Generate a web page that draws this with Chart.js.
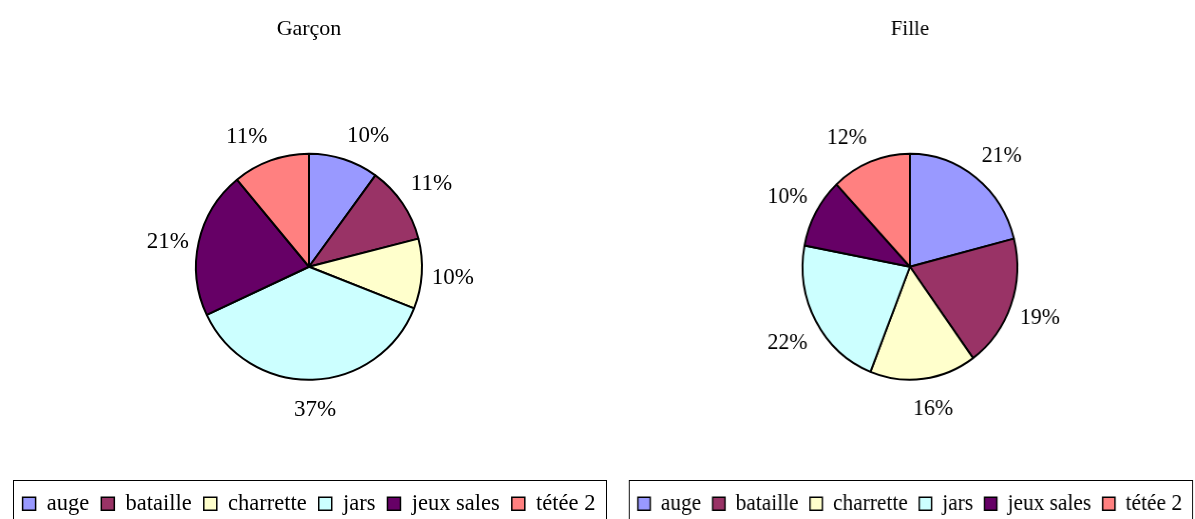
<!DOCTYPE html>
<html lang="fr">
<head>
<meta charset="UTF-8">
<title>Garçon / Fille</title>
<script src="https://cdn.jsdelivr.net/npm/chart.js"></script>
<style>
    body { margin: 0; background: #fff; width: 1195px; height: 519px; position: relative; overflow: hidden; }
    .pie-box { position: absolute; top: 0; width: 602px; height: 525px; }
    #boxGarcon { left: 8px; }
    /* le graphique "Fille" est un peu écrasé en largeur dans l'original */
    #boxFille { left: 624px; transform: scaleX(0.95); transform-origin: 0 0; }
</style>
</head>
<body>
<div class="pie-box" id="boxGarcon"><canvas id="chartGarcon"></canvas></div>
<div class="pie-box" id="boxFille"><canvas id="chartFille"></canvas></div>

<script>
// données (pourcentages)
const categories = ['auge', 'bataille', 'charrette', 'jars', 'jeux sales', 'tétée 2'];
const garconValues = [10, 11, 10, 37, 21, 11];
const filleValues = [21, 19, 16, 22, 10, 12];
const sliceColors = ['#9999FF', '#993366', '#FFFFCC', '#CCFFFF', '#660066', '#FF8080'];

const serif = '"Liberation Serif", "DejaVu Serif", serif';

// étiquettes % à l'extérieur des parts, à la manière d'Excel
const pctLabels = {
    id: 'pctLabels',
    afterDatasetsDraw(chart) {
        const ctx = chart.ctx;
        const meta = chart.getDatasetMeta(0);
        const values = chart.data.datasets[0].data;
        const total = values.reduce((a, b) => a + b, 0);
        const clamp = v => Math.max(-1, Math.min(1, v));
        ctx.save();
        ctx.font = '23px ' + serif;
        ctx.fillStyle = '#000';
        ctx.textAlign = 'center';
        ctx.textBaseline = 'middle';
        meta.data.forEach((arc, i) => {
            const p = arc.getProps(['x', 'y', 'startAngle', 'endAngle', 'outerRadius'], true);
            const mid = (p.startAngle + p.endAngle) / 2;
            const ux = Math.cos(mid), uy = Math.sin(mid);
            const txt = Math.round(values[i] / total * 100) + '%';
            const w = ctx.measureText(txt).width, h = 34;
            const r = p.outerRadius + 10;
            const kx = clamp(ux / 0.3);
            const ky = Math.sign(uy) * Math.max(0, Math.min(1, (Math.abs(uy) - 0.2) / 0.35));
            const cx = p.x + ux * r + kx * w / 2;
            const cy = p.y + uy * r + ky * h / 2 + 3;
            ctx.fillText(txt, cx, cy);
        });
        ctx.restore();
    }
};

// cadre autour de la légende
const legendFrame = {
    id: 'legendFrame',
    afterDraw(chart) {
        const lg = chart.legend;
        if (!lg || !lg.legendHitBoxes.length) return;
        const boxes = lg.legendHitBoxes;
        const left = Math.min(...boxes.map(b => b.left)) - 10;
        const right = Math.max(...boxes.map(b => b.left + b.width)) + 10;
        const top = Math.min(...boxes.map(b => b.top)) - 13;
        const ctx = chart.ctx;
        ctx.save();
        ctx.strokeStyle = '#000';
        ctx.lineWidth = 1;
        ctx.strokeRect(Math.round(left) + 0.5, Math.round(top) + 0.5, Math.round(right - left), 80);
        ctx.restore();
    }
};

const baseLabels = Chart.overrides.pie.plugins.legend.labels.generateLabels;

function makePie(canvasId, title, values) {
    return new Chart(document.getElementById(canvasId), {
        type: 'pie',
        data: {
            labels: categories,
            datasets: [{
                data: values,
                backgroundColor: sliceColors,
                borderColor: '#000',
                borderWidth: 2,
                radius: 113
            }]
        },
        options: {
            responsive: true,
            maintainAspectRatio: false,
            animation: false,
            plugins: {
                title: {
                    display: true,
                    text: title,
                    color: '#000',
                    font: { family: serif, size: 22, weight: 'normal' },
                    padding: { top: 16, bottom: 10.6 }
                },
                legend: {
                    position: 'bottom',
                    labels: {
                        color: '#000',
                        font: { family: serif, size: 22.5 },
                        boxWidth: 13,
                        boxHeight: 13,
                        padding: 12,
                        generateLabels: chart => baseLabels(chart).map(l => ({ ...l, lineWidth: 1.5 }))
                    }
                },
                tooltip: { enabled: false }
            }
        },
        plugins: [pctLabels, legendFrame]
    });
}

makePie('chartGarcon', 'Garçon', garconValues);
makePie('chartFille', 'Fille', filleValues);
</script>
</body>
</html>
